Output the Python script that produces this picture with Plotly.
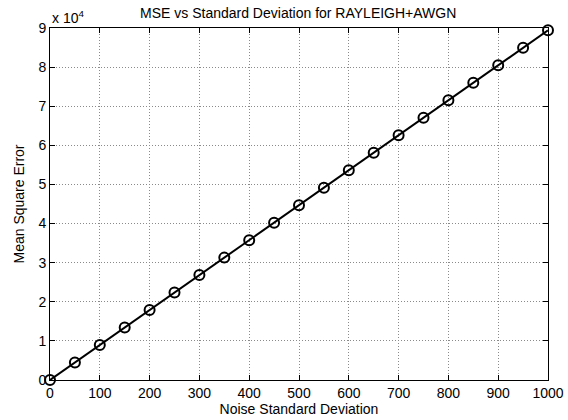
import plotly.graph_objects as go

noise_sd = [0, 50, 100, 150, 200, 250, 300, 350, 400, 450, 500,
            550, 600, 650, 700, 750, 800, 850, 900, 950, 1000]
mse = [0, 4470, 8940, 13410, 17880, 22350, 26820, 31290, 35760, 40230, 44700,
       49170, 53640, 58110, 62580, 67050, 71520, 75990, 80460, 84930, 89400]
x_ticks = list(range(0, 1001, 100))
y_ticks = [i * 10000 for i in range(10)]
y_ticktext = [str(i) for i in range(10)]

fig = go.Figure()
fig.add_trace(go.Scatter(
    x=noise_sd, y=mse, mode="lines+markers",
    line=dict(color="black", width=2),
    marker=dict(symbol="circle-open", size=10, color="black", line=dict(width=2)),
    cliponaxis=False, showlegend=False, hoverinfo="skip"))

font = dict(family="Liberation Sans, Arial, sans-serif", size=14, color="black")
axis_common = dict(showline=True, linecolor="black", linewidth=1, mirror="ticks",
                   ticks="inside", ticklen=5, tickcolor="black",
                   showgrid=True, gridcolor="#8a8a8a", griddash="1px,2px", gridwidth=1,
                   zeroline=False, automargin=False,
                   tickfont=dict(size=14, color="black"))

fig.update_layout(
    width=568, height=420,
    margin=dict(l=50, r=20, t=28, b=40),
    paper_bgcolor="white", plot_bgcolor="white",
    font=font,
    title=dict(text="MSE vs Standard Deviation for RAYLEIGH+AWGN", x=0.525, xanchor="center",
               y=0.97, yanchor="middle", font=dict(size=14)),
    xaxis=dict(range=[0, 1000], tickvals=x_ticks,
               title=dict(text="Noise Standard Deviation", standoff=3, font=dict(size=14)),
               **axis_common),
    yaxis=dict(range=[0, 90000], tickvals=y_ticks, ticktext=y_ticktext,
               title=dict(text="Mean Square Error", standoff=10, font=dict(size=14)),
               **axis_common),
    annotations=[dict(text="x 10<sup>4</sup>", xref="paper", yref="paper", x=0, y=1.0,
                      xanchor="left", yanchor="bottom", showarrow=False,
                      font=dict(size=14), yshift=0)],
)

fig.write_html("out.html", config={"displayModeBar": False},
               post_script="document.body.style.margin='0px';document.body.style.overflow='hidden';")
